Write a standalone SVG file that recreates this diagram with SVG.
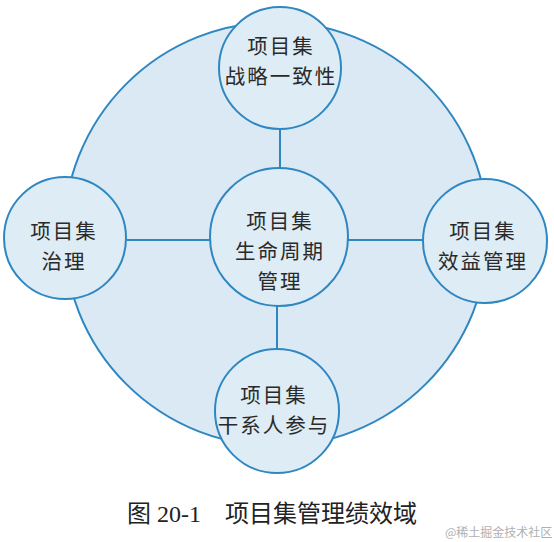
<svg xmlns="http://www.w3.org/2000/svg" width="554" height="542" viewBox="0 0 554 542">
<style>
.bg{fill:#dae9f3;stroke:#2f87c2;stroke-width:2}
.node{fill:#deecf5;stroke:#2f87c2;stroke-width:2}
.lbl{font-family:"Noto Sans CJK SC","Noto Sans",sans-serif;font-size:20.5px;letter-spacing:2px;fill:#2a2a2a;text-anchor:middle}
.conn line{stroke:#2f87c2;stroke-width:2}
.cap{font-family:"Liberation Serif","Noto Sans CJK SC",serif;font-size:24px;fill:#222}
.wm{font-family:"Noto Sans CJK SC",sans-serif;font-size:12px;fill:#b0b0b0}
</style>
<rect width="554" height="542" fill="#ffffff"/>
<g id="outer"><circle class="bg" cx="276" cy="234" r="212"/></g>
<g class="conn" id="connectors">
<line x1="280" y1="129" x2="280" y2="168"/>
<line x1="127" y1="240" x2="210" y2="240"/>
<line x1="348" y1="240" x2="423" y2="240"/>
<line x1="277" y1="306" x2="277" y2="350"/>
</g>
<g id="n-top"><circle class="node" cx="280" cy="68" r="61"/>
<text class="lbl" x="281" y="54">项目集<tspan x="281" dy="30">战略一致性</tspan></text></g>
<g id="n-center"><circle class="node" cx="279" cy="237" r="69"/>
<text class="lbl" x="280" y="229">项目集<tspan x="280" dy="30">生命周期</tspan><tspan x="280" dy="30">管理</tspan></text></g>
<g id="n-left"><circle class="node" cx="65" cy="238" r="61"/>
<text class="lbl" x="64" y="239">项目集<tspan x="64" dy="30">治理</tspan></text></g>
<g id="n-right"><circle class="node" cx="485" cy="241" r="62"/>
<text class="lbl" x="483" y="239">项目集<tspan x="483" dy="30">效益管理</tspan></text></g>
<g id="n-bottom"><circle class="node" cx="277" cy="411" r="62"/>
<text class="lbl" x="274" y="403">项目集<tspan x="274" dy="30">干系人参与</tspan></text></g>
<text class="cap" y="522"><tspan x="127">图 20-1</tspan><tspan x="225">项目集管理绩效域</tspan></text>
<text class="wm" x="445" y="537">@稀土掘金技术社区</text>
</svg>
